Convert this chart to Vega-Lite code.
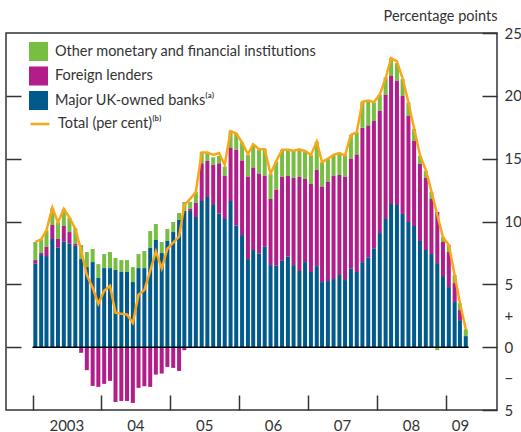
{
  "$schema": "https://vega.github.io/schema/vega-lite/v6.json",
  "width": 491,
  "height": 377,
  "autosize": {"type": "none"},
  "padding": {"left": 6, "top": 33, "right": 24, "bottom": 22},
  "background": "white",
  "config": {
    "font": "Lato",
    "view": {"stroke": "#333333", "strokeWidth": 1.5},
    "axis": {"grid": false, "domain": false, "tickColor": "#333333", "tickWidth": 1.5, "labelColor": "#333333", "labelFont": "Lato", "labelFontSize": 15, "titleColor": "#333333", "titleFont": "Lato"},
    "legend": {"padding": 0, "labelFont": "Lato", "labelFontSize": 14.5, "labelColor": "#333333", "labelLimit": 400}
  },
  "data": {
    "values": [
      {"date": "2003-01-16", "banks": 6.64, "foreign": 0.29, "other": 1.44, "total": 8.37},
      {"date": "2003-02-16", "banks": 7.33, "foreign": 0.16, "other": 1.09, "total": 8.58},
      {"date": "2003-03-16", "banks": 7.25, "foreign": 0.72, "other": 1.30, "total": 9.3},
      {"date": "2003-04-16", "banks": 8.61, "foreign": 1.11, "other": 1.33, "total": 11.1},
      {"date": "2003-05-16", "banks": 7.91, "foreign": 0.70, "other": 1.32, "total": 9.93},
      {"date": "2003-06-16", "banks": 8.39, "foreign": 1.25, "other": 1.36, "total": 11.0},
      {"date": "2003-07-16", "banks": 8.23, "foreign": 0.93, "other": 1.12, "total": 10.3},
      {"date": "2003-08-16", "banks": 8.07, "foreign": 0.16, "other": 1.23, "total": 9.4},
      {"date": "2003-09-16", "banks": 7.01, "foreign": -0.45, "other": 1.12, "total": 7.68},
      {"date": "2003-10-16", "banks": 6.37, "foreign": -1.83, "other": 1.20, "total": 5.74},
      {"date": "2003-11-16", "banks": 6.77, "foreign": -3.08, "other": 1.04, "total": 4.73},
      {"date": "2003-12-16", "banks": 5.50, "foreign": -3.16, "other": 1.11, "total": 3.45},
      {"date": "2004-01-16", "banks": 6.29, "foreign": -2.92, "other": 1.12, "total": 4.49},
      {"date": "2004-02-16", "banks": 6.29, "foreign": -2.68, "other": 1.28, "total": 4.89},
      {"date": "2004-03-16", "banks": 6.14, "foreign": -4.36, "other": 0.96, "total": 2.74},
      {"date": "2004-04-16", "banks": 5.98, "foreign": -4.28, "other": 0.95, "total": 2.65},
      {"date": "2004-05-16", "banks": 5.98, "foreign": -4.28, "other": 0.95, "total": 2.6},
      {"date": "2004-06-16", "banks": 5.18, "foreign": -4.44, "other": 1.19, "total": 1.93},
      {"date": "2004-07-16", "banks": 6.29, "foreign": -3.24, "other": 1.12, "total": 4.17},
      {"date": "2004-08-16", "banks": 6.29, "foreign": -3.11, "other": 1.36, "total": 4.54},
      {"date": "2004-09-16", "banks": 7.89, "foreign": -3.16, "other": 1.35, "total": 6.08},
      {"date": "2004-10-16", "banks": 8.53, "foreign": -2.18, "other": 1.27, "total": 7.62},
      {"date": "2004-11-16", "banks": 7.49, "foreign": -2.10, "other": 0.88, "total": 6.27},
      {"date": "2004-12-16", "banks": 8.45, "foreign": -1.57, "other": 0.95, "total": 7.83},
      {"date": "2005-01-16", "banks": 9.16, "foreign": -1.65, "other": 0.80, "total": 8.31},
      {"date": "2005-02-16", "banks": 10.12, "foreign": -1.89, "other": 0.56, "total": 8.79},
      {"date": "2005-03-16", "banks": 10.84, "foreign": -0.24, "other": 0.71, "total": 11.31},
      {"date": "2005-04-16", "banks": 10.84, "foreign": 0.18, "other": 0.55, "total": 11.8},
      {"date": "2005-05-16", "banks": 10.36, "foreign": 1.11, "other": 0.88, "total": 12.35},
      {"date": "2005-06-16", "banks": 11.63, "foreign": 3.00, "other": 0.88, "total": 15.5},
      {"date": "2005-07-16", "banks": 11.95, "foreign": 2.87, "other": 0.61, "total": 15.5},
      {"date": "2005-08-16", "banks": 11.31, "foreign": 3.19, "other": 0.61, "total": 15.3},
      {"date": "2005-09-16", "banks": 10.62, "foreign": 4.01, "other": 0.59, "total": 15.45},
      {"date": "2005-10-16", "banks": 10.20, "foreign": 3.43, "other": 0.74, "total": 14.5},
      {"date": "2005-11-16", "banks": 11.63, "foreign": 4.25, "other": 1.33, "total": 17.2},
      {"date": "2005-12-16", "banks": 9.67, "foreign": 6.03, "other": 1.32, "total": 17.0},
      {"date": "2006-01-16", "banks": 8.92, "foreign": 5.93, "other": 1.46, "total": 16.3},
      {"date": "2006-02-16", "banks": 7.01, "foreign": 6.56, "other": 1.73, "total": 15.35},
      {"date": "2006-03-16", "banks": 7.73, "foreign": 6.56, "other": 1.75, "total": 16.15},
      {"date": "2006-04-16", "banks": 7.46, "foreign": 6.35, "other": 1.89, "total": 15.75},
      {"date": "2006-05-16", "banks": 7.99, "foreign": 5.64, "other": 2.15, "total": 15.75},
      {"date": "2006-06-16", "banks": 6.53, "foreign": 5.26, "other": 1.99, "total": 13.8},
      {"date": "2006-07-16", "banks": 6.48, "foreign": 6.06, "other": 2.23, "total": 14.8},
      {"date": "2006-08-16", "banks": 6.87, "foreign": 6.68, "other": 2.15, "total": 15.7},
      {"date": "2006-09-16", "banks": 7.20, "foreign": 6.43, "other": 2.07, "total": 15.7},
      {"date": "2006-10-16", "banks": 6.53, "foreign": 6.94, "other": 2.17, "total": 15.64},
      {"date": "2006-11-16", "banks": 6.06, "foreign": 7.49, "other": 2.20, "total": 15.75},
      {"date": "2006-12-16", "banks": 6.77, "foreign": 6.62, "other": 2.25, "total": 15.6},
      {"date": "2007-01-16", "banks": 5.98, "foreign": 7.01, "other": 2.31, "total": 15.3},
      {"date": "2007-02-16", "banks": 6.45, "foreign": 7.65, "other": 2.26, "total": 16.36},
      {"date": "2007-03-16", "banks": 5.18, "foreign": 7.60, "other": 1.93, "total": 14.71},
      {"date": "2007-04-16", "banks": 5.26, "foreign": 7.89, "other": 1.83, "total": 15.0},
      {"date": "2007-05-16", "banks": 5.42, "foreign": 8.21, "other": 1.67, "total": 15.3},
      {"date": "2007-06-16", "banks": 5.74, "foreign": 7.97, "other": 1.77, "total": 15.45},
      {"date": "2007-07-16", "banks": 5.34, "foreign": 8.21, "other": 1.75, "total": 15.25},
      {"date": "2007-08-16", "banks": 6.24, "foreign": 8.74, "other": 1.91, "total": 16.89},
      {"date": "2007-09-16", "banks": 5.98, "foreign": 9.35, "other": 1.77, "total": 17.1},
      {"date": "2007-10-16", "banks": 6.77, "foreign": 10.68, "other": 2.07, "total": 19.52},
      {"date": "2007-11-16", "banks": 7.15, "foreign": 10.46, "other": 1.99, "total": 19.62},
      {"date": "2007-12-16", "banks": 7.86, "foreign": 10.15, "other": 1.46, "total": 19.5},
      {"date": "2008-01-16", "banks": 9.08, "foreign": 9.72, "other": 1.28, "total": 20.1},
      {"date": "2008-02-16", "banks": 10.20, "foreign": 9.88, "other": 1.38, "total": 21.4},
      {"date": "2008-03-16", "banks": 11.39, "foreign": 10.20, "other": 1.41, "total": 23.0},
      {"date": "2008-04-16", "banks": 11.31, "foreign": 9.89, "other": 1.40, "total": 22.75},
      {"date": "2008-05-16", "banks": 10.60, "foreign": 9.40, "other": 1.33, "total": 21.4},
      {"date": "2008-06-16", "banks": 9.96, "foreign": 8.45, "other": 1.06, "total": 19.47},
      {"date": "2008-07-16", "banks": 9.64, "foreign": 6.77, "other": 0.96, "total": 17.4},
      {"date": "2008-08-16", "banks": 8.45, "foreign": 6.13, "other": 0.64, "total": 15.3},
      {"date": "2008-09-16", "banks": 7.73, "foreign": 5.74, "other": 0.55, "total": 14.1},
      {"date": "2008-10-16", "banks": 7.41, "foreign": 4.38, "other": 0.56, "total": 12.4},
      {"date": "2008-11-16", "banks": 6.69, "foreign": 4.07, "other": -0.24, "total": 10.52},
      {"date": "2008-12-16", "banks": 5.66, "foreign": 2.71, "other": 0.39, "total": 8.76},
      {"date": "2009-01-16", "banks": 4.78, "foreign": 2.79, "other": 0.56, "total": 8.13},
      {"date": "2009-02-16", "banks": 3.59, "foreign": 1.51, "other": 0.64, "total": 5.74},
      {"date": "2009-03-16", "banks": 2.15, "foreign": 0.80, "other": 0.56, "total": 3.51},
      {"date": "2009-04-16", "banks": 0.88, "foreign": 0, "other": 0.55, "total": 1.43}
    ]
  },
  "layer": [
    {
      "transform": [{"fold": ["other", "foreign", "banks"], "as": ["series", "value"]}],
      "mark": {"type": "bar", "size": 4},
      "encoding": {
        "x": {
          "field": "date", "type": "temporal",
          "scale": {"type": "utc", "nice": false, "domain": [1031529600000, 1251849600000]},
          "axis": {
            "orient": "bottom",
            "title": null,
            "values": [1041379200000, 1072915200000, 1104537600000, 1136073600000, 1167609600000, 1199145600000, 1230768000000],
            "tickSize": -15,
            "labels": false
          }
        },
        "y": {
          "field": "value", "type": "quantitative", "stack": "zero",
          "scale": {"domain": [-5, 25], "nice": false, "zero": false},
          "axis": {
            "orient": "right",
            "values": [-5, -2.5, 0, 2.5, 5, 10, 15, 20, 25],
            "tickSize": -15,
            "tickOpacity": {"condition": {"test": "abs(datum.value) === 2.5", "value": 0}, "value": 1},
            "labelExpr": "datum.value === 2.5 ? '+' : (datum.value === -2.5 ? '−' : '' + abs(datum.value))",
            "labelPadding": 22,
            "labelBaseline": "middle",
            "labelFlush": false,
            "labelOverlap": false,
            "title": "Percentage points",
            "titleAngle": 0,
            "titleAlign": "right",
            "titleBaseline": "alphabetic",
            "titleX": 0,
            "titleY": -13,
            "titleFontSize": 14.5,
            "titleFontWeight": "normal"
          }
        },
        "color": {
          "field": "series", "type": "nominal",
          "scale": {"domain": ["other", "foreign", "banks"], "range": ["#78BE43", "#B21D8A", "#005A8C"]},
          "legend": {
            "orient": "none", "legendX": 23, "legendY": 9, "title": null,
            "symbolType": "square", "symbolSize": 361, "symbolStrokeWidth": 0,
            "rowPadding": 5.5, "labelOffset": 7,
            "labelExpr": "datum.label === 'other' ? 'Other monetary and financial institutions' : (datum.label === 'foreign' ? 'Foreign lenders' : 'Major UK-owned banks⁽ᵃ⁾')"
          }
        },
        "order": {"field": "series", "sort": "ascending"}
      }
    },
    {
      "mark": {"type": "line", "strokeWidth": 2.5},
      "encoding": {
        "x": {"field": "date", "type": "temporal"},
        "y": {
          "field": "total", "type": "quantitative",
          "axis": {"orient": "left", "values": [0, 5, 10, 15, 20], "tickSize": -15, "labels": false, "title": null}
        },
        "stroke": {
          "datum": "Total (per cent)⁽ᵇ⁾", "type": "nominal",
          "scale": {"range": ["#F9A61A"]},
          "legend": {
            "orient": "none", "legendX": 23, "legendY": 80, "title": null,
            "symbolType": "stroke", "symbolSize": 361, "symbolStrokeWidth": 2.5, "labelOffset": 7
          }
        }
      }
    },
    {
      "data": {"values": [{"start": "2003-01-01", "end": "2009-05-01"}]},
      "mark": {"type": "rule", "color": "#000000", "strokeWidth": 1.5},
      "encoding": {
        "x": {"field": "start", "type": "temporal"},
        "x2": {"field": "end"},
        "y": {"datum": 0, "type": "quantitative", "axis": null}
      }
    },
    {
      "data": {"values": [
        {"pos": "2003-07-02", "label": "2003"},
        {"pos": "2004-07-02", "label": "04"},
        {"pos": "2005-07-02", "label": "05"},
        {"pos": "2006-07-02", "label": "06"},
        {"pos": "2007-07-02", "label": "07"},
        {"pos": "2008-07-02", "label": "08"},
        {"pos": "2009-03-19", "label": "09"}
      ]},
      "mark": {"type": "text", "baseline": "alphabetic", "align": "center", "dy": 20.5, "fontSize": 15, "font": "Lato", "color": "#333333"},
      "encoding": {
        "x": {"field": "pos", "type": "temporal"},
        "y": {"datum": -5, "type": "quantitative", "axis": null},
        "text": {"field": "label", "type": "nominal"}
      }
    }
  ],
  "resolve": {"axis": {"y": "independent"}}
}
